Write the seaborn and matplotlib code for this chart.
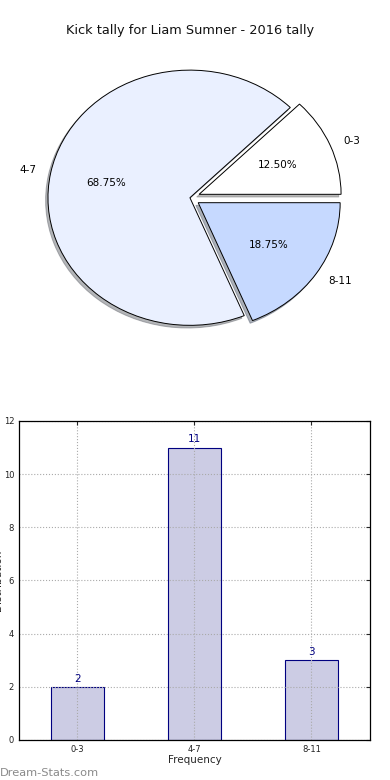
import matplotlib
matplotlib.use("Agg")
import matplotlib.pyplot as plt
import seaborn as sns
import pandas as pd

# --- data ---
categories = ["0-3", "4-7", "8-11"]
counts = [2, 11, 3]
pie_colors = ["#ffffff", "#eaf0ff", "#c6d9ff"]
explode = [0.07, 0.0, 0.07]
title = "Kick tally for Liam Sumner - 2016 tally"

sns.set_style("white")
plt.rcParams["font.family"] = ["DejaVu Sans"]

fig = plt.figure(figsize=(3.9, 7.8), dpi=100)

# --- pie (top) ---
ax_pie = fig.add_axes([0.032, 0.542, 0.91, 0.409])
wedges, texts, autotexts = ax_pie.pie(
    counts, labels=categories, colors=pie_colors, explode=explode,
    autopct="%.2f%%", startangle=0,
    shadow=dict(ox=-0.012, oy=-0.015, shade=0.55),
    wedgeprops=dict(edgecolor="black", linewidth=0.7),
    textprops=dict(fontsize=7.5, color="black"))
ax_pie.set_aspect("auto")
ax_pie.set_title(title, fontsize=9.3, pad=3, color="#111111")

# --- bar chart (bottom) ---
df = pd.DataFrame({"range": categories, "count": counts})
ax_bar = fig.add_axes([0.0487, 0.0513, 0.9, 0.409])
sns.barplot(data=df, x="range", y="count", ax=ax_bar, color="#ccccE4",
            edgecolor="navy", linewidth=0.8, width=0.45, saturation=1)
for i, v in enumerate(counts):
    ax_bar.text(i, v + 0.12, str(v), ha="center", va="bottom",
                fontsize=7.5, color="navy")

ax_bar.set_xlim(-0.5, 2.5)
ax_bar.set_ylim(0, 12)
ax_bar.set_yticks(range(0, 13, 2))
ax_bar.set_axisbelow("line")
ax_bar.grid(True, linestyle=":", color="#aaaaaa", linewidth=0.8)
ax_bar.tick_params(direction="in", labelsize=6, length=3, top=True, right=True,
                   labelcolor="#222222")
for s in ax_bar.spines.values():
    s.set_color("black")
    s.set_linewidth(0.9)
    s.set_zorder(3)
ax_bar.set_xlabel("Frequency", fontsize=7.5, labelpad=1)
ax_bar.set_ylabel("Distribution", fontsize=7.5)
ax_bar.yaxis.set_label_coords(-0.045, 0.5)

fig.text(0.0, 0.003, "Dream-Stats.com", fontsize=8.2,
         color="#8a8a8a", ha="left", va="bottom")

fig.savefig("out.png", dpi=100)
